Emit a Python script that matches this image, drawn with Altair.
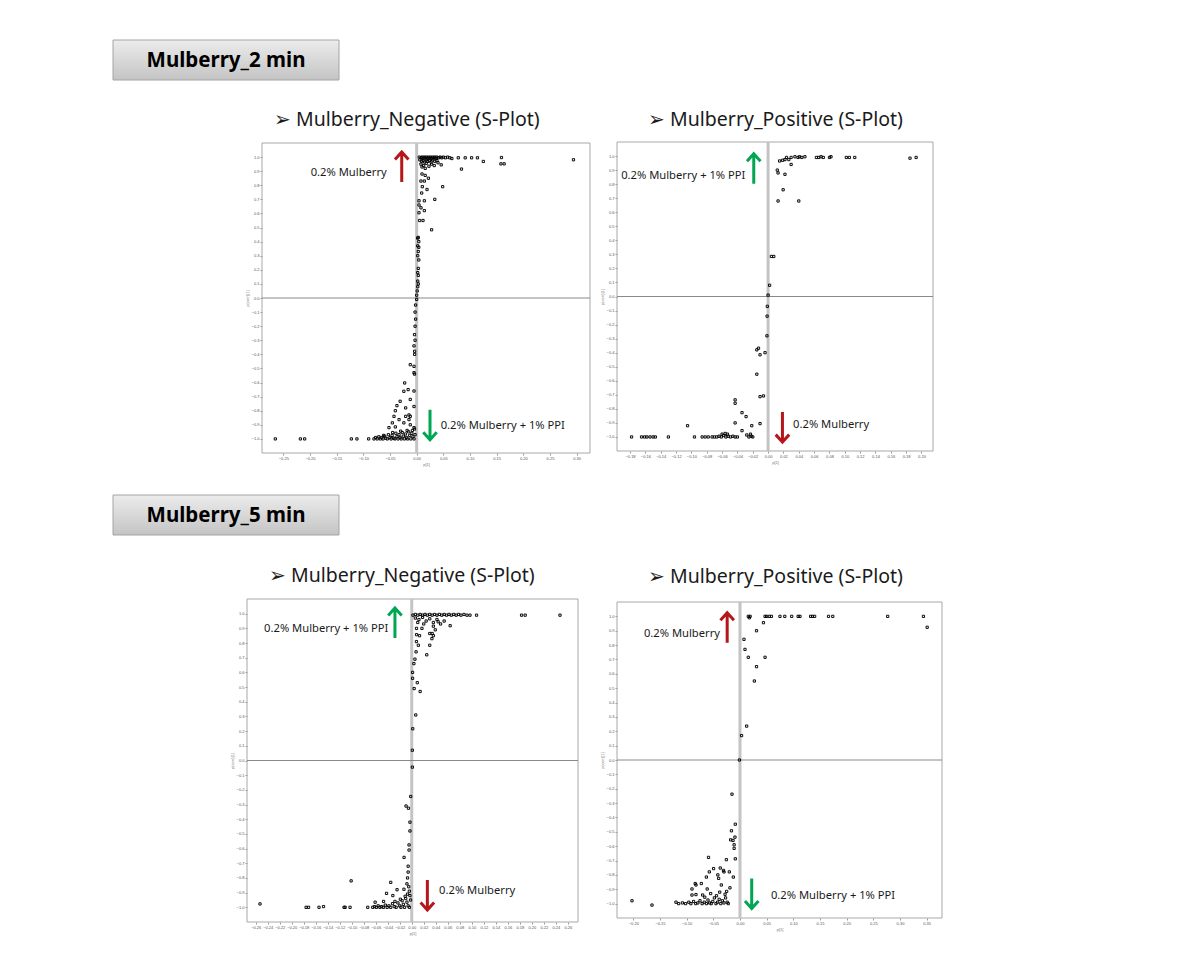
import altair as alt
import pandas as pd

# ------------------------------------------------------------------ data
# S-plot points (p[1], p(corr)[1])
neg2_pts = [
    (0.005, 1.0), (0.008, 0.995), (0.010, 1.0), (0.012, 0.99), (0.014, 1.0), (0.016, 0.995),
    (0.018, 1.0), (0.020, 0.99), (0.022, 1.0), (0.024, 0.995), (0.026, 1.0), (0.028, 0.99),
    (0.030, 1.0), (0.032, 0.995), (0.034, 1.0), (0.036, 0.99), (0.038, 1.0), (0.041, 0.995),
    (0.044, 1.0), (0.047, 0.995), (0.050, 1.0), (0.054, 0.995), (0.058, 1.0), (0.062, 0.995),
    (0.066, 0.99), (0.078, 0.995), (0.091, 0.995), (0.103, 0.995), (0.114, 0.995), (0.125, 0.969),
    (0.159, 0.997), (0.158, 0.952), (0.164, 0.952), (0.294, 0.981), (0.084, 0.915), (0.046, 0.945),
    (0.006, 0.98), (0.009, 0.97), (0.012, 0.975), (0.015, 0.965), (0.018, 0.98), (0.021, 0.97),
    (0.024, 0.975), (0.027, 0.965), (0.030, 0.98), (0.034, 0.97), (0.038, 0.975), (0.008, 0.95),
    (0.013, 0.94), (0.018, 0.955), (0.023, 0.935), (0.028, 0.95), (0.033, 0.94), (0.040, 0.96),
    (0.010, 0.93), (0.016, 0.92), (0.010, 0.88), (0.016, 0.87), (0.022, 0.85), (0.008, 0.83),
    (0.0144, 0.83), (0.0488, 0.79), (0.0106, 0.79), (0.0194, 0.77), (0.034, 0.70), (0.0094, 0.745),
    (0.0044, 0.69), (0.0044, 0.66), (0.0144, 0.69), (0.0081, 0.64), (0.0144, 0.62), (0.0044, 0.605),
    (0.0056, 0.55), (0.0119, 0.55), (0.028, 0.484), (0.0019, 0.425),
    (0.003, 0.43), (0.004, 0.40), (0.002, 0.37), (0.004, 0.36), (0.003, 0.33), (0.002, 0.30),
    (0.004, 0.27), (0.003, 0.21), (0.002, 0.18), (0.003, 0.16), (0.002, 0.12), (0.003, 0.10),
    (0.002, 0.08), (0.001, 0.05), (0.0, 0.02), (0.0, -0.01),
    (-0.002, -0.05), (-0.003, -0.10), (-0.002, -0.15), (-0.003, -0.20), (-0.004, -0.26),
    (-0.003, -0.30), (-0.005, -0.34),
    (-0.0038, -0.378), (-0.0038, -0.40), (-0.012, -0.473), (-0.005, -0.485), (-0.005, -0.53),
    (-0.004, -0.54), (-0.0225, -0.603), (-0.024, -0.662), (-0.016, -0.65), (-0.005, -0.66),
    (-0.031, -0.733), (-0.012, -0.72), (-0.037, -0.764), (-0.0206, -0.78), (-0.005, -0.77),
    (-0.040, -0.80), (-0.0144, -0.83), (-0.012, -0.84), (-0.0425, -0.84), (-0.0206, -0.84),
    (-0.033, -0.863), (-0.024, -0.886), (-0.0456, -0.886), (-0.0144, -0.863), (-0.012, -0.90),
    (-0.005, -0.92), (-0.04, -0.915), (-0.0519, -0.92),
    (-0.080, -1.0), (-0.077, -0.99), (-0.074, -1.0), (-0.071, -0.985), (-0.068, -1.0),
    (-0.066, -0.99), (-0.063, -1.0), (-0.060, -0.98), (-0.058, -0.995), (-0.055, -1.0),
    (-0.053, -0.97), (-0.050, -0.99), (-0.048, -1.0), (-0.046, -0.975), (-0.043, -0.995),
    (-0.041, -1.0), (-0.039, -0.96), (-0.037, -0.985), (-0.035, -1.0), (-0.033, -0.97),
    (-0.031, -0.99), (-0.029, -1.0), (-0.027, -0.955), (-0.025, -0.98), (-0.023, -1.0),
    (-0.021, -0.965), (-0.019, -0.99), (-0.017, -1.0), (-0.015, -0.95), (-0.013, -0.975),
    (-0.011, -1.0), (-0.009, -0.96), (-0.007, -0.985), (-0.005, -1.0), (-0.003, -0.97),
    (-0.062, -0.975), (-0.045, -0.955), (-0.030, -0.945), (-0.018, -0.94), (-0.008, -0.94),
    (-0.004, -0.93),
    (-0.265, -1.0), (-0.218, -1.0), (-0.21, -1.0), (-0.1225, -1.0), (-0.112, -1.0), (-0.09, -1.0),
]

pos2_pts = [
    (0.024, 0.99), (0.030, 0.99), (0.035, 0.995), (0.039, 0.99), (0.041, 0.995), (0.044, 0.99),
    (0.048, 0.995), (0.063, 0.99), (0.066, 0.99), (0.069, 0.995), (0.072, 0.99), (0.080, 0.99),
    (0.082, 0.995), (0.102, 0.99), (0.106, 0.99), (0.113, 0.99), (0.185, 0.985), (0.193, 0.99),
    (0.015, 0.965), (0.019, 0.97), (0.022, 0.975), (0.027, 0.975), (0.012, 0.90), (0.013, 0.88),
    (0.030, 0.94), (0.022, 0.87), (0.0196, 0.76), (0.013, 0.68), (0.040, 0.68),
    (0.0043, 0.285), (0.0074, 0.285), (0.002, 0.08), (0.0, 0.01),
    (-0.001, -0.07), (-0.0013, -0.14), (-0.0015, -0.28), (-0.004, -0.40), (-0.0147, -0.38),
    (-0.0125, -0.368), (-0.0105, -0.415), (-0.0147, -0.553), (-0.0105, -0.713), (-0.006, -0.708),
    (-0.043, -0.736), (-0.043, -0.76), (-0.034, -0.827), (-0.0287, -0.855), (-0.043, -0.90),
    (-0.0105, -0.905), (-0.0213, -0.92), (-0.105, -0.92), (-0.034, -0.955), (-0.0278, -0.986),
    (-0.025, -1.0), (-0.022, -0.995), (-0.020, -1.0), (-0.023, -0.98),
    (-0.178, -1.0), (-0.165, -1.0), (-0.161, -1.0), (-0.158, -1.0), (-0.154, -1.0),
    (-0.150, -1.0), (-0.147, -1.0), (-0.13, -1.0), (-0.096, -1.0), (-0.086, -1.0),
    (-0.082, -1.0), (-0.078, -1.0), (-0.073, -1.0), (-0.070, -1.0), (-0.067, -1.0),
    (-0.064, -0.995), (-0.061, -1.0), (-0.058, -0.99), (-0.055, -1.0), (-0.052, -0.995),
    (-0.049, -1.0), (-0.046, -0.995), (-0.043, -1.0), (-0.040, -1.0), (-0.060, -0.98),
    (-0.056, -0.975), (-0.053, -0.98),
]

neg5_pts = [
    (0.002, 0.99), (0.006, 0.995), (0.010, 0.99), (0.014, 0.995), (0.018, 0.99), (0.022, 0.995),
    (0.026, 0.99), (0.030, 0.995), (0.034, 0.99), (0.038, 0.995), (0.042, 0.99), (0.046, 0.995),
    (0.050, 0.99), (0.054, 0.995), (0.058, 0.99), (0.062, 0.995), (0.066, 0.99), (0.070, 0.995),
    (0.074, 0.99), (0.078, 0.995), (0.082, 0.99), (0.087, 0.995), (0.092, 0.99), (0.097, 0.99),
    (0.108, 0.99), (0.183, 0.99), (0.189, 0.99), (0.247, 0.99),
    (0.006, 0.97), (0.012, 0.96), (0.018, 0.975), (0.024, 0.95), (0.030, 0.965), (0.036, 0.94),
    (0.042, 0.96), (0.048, 0.93), (0.054, 0.95), (0.010, 0.94), (0.020, 0.93), (0.044, 0.945),
    (0.064, 0.918), (0.008, 0.90), (0.017, 0.90), (0.036, 0.915), (0.0392, 0.89),
    (0.008, 0.857), (0.013, 0.85), (0.030, 0.865), (0.034, 0.865), (0.036, 0.85), (0.0336, 0.83),
    (0.0078, 0.81), (0.011, 0.785), (0.030, 0.785), (0.0072, 0.74), (0.025, 0.72), (0.0053, 0.69),
    (0.0036, 0.66), (0.0014, 0.60), (0.0014, 0.56), (0.0092, 0.53), (0.004, 0.49), (0.014, 0.47),
    (0.0067, 0.31), (0.0017, 0.216), (0.001, 0.07), (0.001, -0.045),
    (-0.0017, -0.245), (-0.0095, -0.31), (-0.0055, -0.325), (-0.003, -0.42), (-0.003, -0.48),
    (-0.0045, -0.575), (-0.0045, -0.61), (-0.0128, -0.66), (-0.101, -0.82), (-0.006, -0.72),
    (-0.006, -0.76), (-0.007, -0.80), (-0.035, -0.83), (-0.013, -0.877), (-0.0245, -0.88),
    (-0.042, -0.905), (-0.0315, -0.92), (-0.047, -0.96), (-0.061, -0.965), (-0.2528, -0.977),
    (-0.176, -1.0), (-0.172, -1.0), (-0.1545, -1.0), (-0.147, -0.995), (-0.1128, -1.0),
    (-0.111, -1.0), (-0.1028, -1.0), (-0.0733, -1.0),
    (-0.065, -1.0), (-0.062, -0.995), (-0.059, -1.0), (-0.056, -0.99), (-0.053, -1.0),
    (-0.050, -0.995), (-0.047, -1.0), (-0.044, -0.985), (-0.041, -1.0), (-0.038, -0.99),
    (-0.035, -1.0), (-0.032, -0.975), (-0.029, -0.995), (-0.026, -1.0), (-0.023, -0.97),
    (-0.020, -0.99), (-0.018, -1.0), (-0.016, -0.955), (-0.014, -0.98), (-0.012, -1.0),
    (-0.010, -0.94), (-0.008, -0.965), (-0.006, -0.99), (-0.004, -1.0), (-0.002, -0.95),
    (-0.003, -0.92), (-0.007, -0.91), (-0.011, -0.925), (-0.019, -0.945), (-0.028, -0.96),
    (-0.005, -0.86), (-0.008, -0.84), (-0.004, -0.89),
]

pos5_pts = [
    (0.0156, 1.0), (0.019, 1.0), (0.047, 1.0), (0.050, 1.0), (0.055, 1.0), (0.059, 1.0),
    (0.075, 1.0), (0.084, 1.0), (0.097, 1.0), (0.109, 1.0), (0.1125, 1.0), (0.1325, 1.0),
    (0.136, 1.0), (0.14, 1.0), (0.166, 1.0), (0.174, 1.0), (0.277, 1.0), (0.344, 1.0),
    (0.0175, 0.99), (0.044, 0.956), (0.351, 0.924), (0.031, 0.90), (0.0075, 0.84),
    (0.0094, 0.77), (0.0156, 0.715), (0.047, 0.715), (0.031, 0.65), (0.027, 0.55),
    (0.0125, 0.236), (0.003, 0.17), (-0.001, 0.0),
    (-0.015, -0.238), (-0.0088, -0.447), (-0.016, -0.493), (-0.0094, -0.537), (-0.0175, -0.556),
    (-0.013, -0.56), (-0.011, -0.59), (-0.011, -0.615), (-0.059, -0.678), (-0.0088, -0.688),
    (-0.0256, -0.694), (-0.037, -0.752), (-0.031, -0.769), (-0.0575, -0.779), (-0.0495, -0.756),
    (-0.03, -0.779), (-0.020, -0.779), (-0.0415, -0.80), (-0.040, -0.824), (-0.063, -0.815),
    (-0.0125, -0.815), (-0.084, -0.86), (-0.0725, -0.86), (-0.035, -0.87), (-0.09, -0.898),
    (-0.0825, -0.87), (-0.0615, -0.898), (-0.0188, -0.89), (-0.09, -0.94), (-0.0825, -0.937),
    (-0.2025, -0.98), (-0.165, -1.01),
    (-0.12, -0.99), (-0.115, -1.0), (-0.108, -0.995), (-0.102, -1.0), (-0.096, -0.99),
    (-0.092, -1.0), (-0.087, -0.985), (-0.083, -1.0), (-0.079, -0.995), (-0.075, -0.98),
    (-0.071, -1.0), (-0.067, -0.99), (-0.063, -1.0), (-0.060, -0.975), (-0.057, -0.995),
    (-0.054, -1.0), (-0.051, -0.985), (-0.048, -0.96), (-0.045, -1.0), (-0.042, -0.99),
    (-0.039, -0.97), (-0.036, -1.0), (-0.033, -0.98), (-0.030, -0.995), (-0.027, -0.96),
    (-0.024, -0.99), (-0.022, -1.0), (-0.070, -0.94), (-0.055, -0.93), (-0.044, -0.945),
    (-0.038, -0.92), (-0.028, -0.935), (-0.025, -0.915), (-0.066, -0.955),
]

# tick values
y_ticks = [-1.0, -0.9, -0.8, -0.7, -0.6, -0.5, -0.4, -0.3, -0.2, -0.1, 0.0,
           0.1, 0.2, 0.3, 0.4, 0.5, 0.6, 0.7, 0.8, 0.9, 1.0]
neg2_xticks = [-0.25, -0.20, -0.15, -0.10, -0.05, 0.0, 0.05, 0.10, 0.15, 0.20, 0.25, 0.30]
pos2_xticks = [-0.20, -0.18, -0.16, -0.14, -0.12, -0.10, -0.08, -0.06, -0.04, -0.02, 0.0,
               0.02, 0.04, 0.06, 0.08, 0.10, 0.12, 0.14, 0.16, 0.18, 0.20]
neg5_xticks = [-0.26, -0.24, -0.22, -0.20, -0.18, -0.16, -0.14, -0.12, -0.10, -0.08, -0.06,
               -0.04, -0.02, 0.0, 0.02, 0.04, 0.06, 0.08, 0.10, 0.12, 0.14, 0.16, 0.18,
               0.20, 0.22, 0.24, 0.26]
pos5_xticks = [-0.20, -0.15, -0.10, -0.05, 0.0, 0.05, 0.10, 0.15, 0.20, 0.25, 0.30, 0.35]

# texts
header_texts = ["Mulberry_2 min", "Mulberry_5 min"]
neg_title = "\u27a2 Mulberry_Negative (S-Plot)"
pos_title = "\u27a2 Mulberry_Positive (S-Plot)"
lab_a = "0.2% Mulberry"
lab_b = "0.2% Mulberry + 1% PPI"

RED = "#b4161b"
GREEN = "#00a651"

# annotations per panel: arrows (x, y, colour, direction) and notes (x, y, text, align)
neg2_arrows = [(-0.028, 0.93, RED, "up"), (0.025, -0.90, GREEN, "down")]
neg2_notes = [(-0.056, 0.89, lab_a, "right"), (0.045, -0.91, lab_b, "left")]
pos2_arrows = [(-0.0187, 0.91, GREEN, "up"), (0.0187, -0.93, RED, "down")]
pos2_notes = [(-0.0296, 0.86, lab_b, "right"), (0.0326, -0.914, lab_a, "left")]
neg5_arrows = [(-0.028, 0.936, GREEN, "up"), (0.026, -0.916, RED, "down")]
neg5_notes = [(-0.039, 0.895, lab_b, "right"), (0.0456, -0.89, lab_a, "left")]
pos5_arrows = [(-0.024, 0.92, RED, "up"), (0.022, -0.93, GREEN, "down")]
pos5_notes = [(-0.0375, 0.88, lab_a, "right"), (0.058, -0.95, lab_b, "left")]

# ------------------------------------------------------------------ layout (pixels)
W, H = 1190, 957
FONT = "Noto Sans"
UP_PATH = "M0,1 L0,-1 M-0.45,-0.5 L0,-1 L0.45,-0.5"
DOWN_PATH = "M0,-1 L0,1 M-0.45,0.5 L0,1 L0.45,0.5"


def panel(pts, xticks, xdom, xr, yr, arrows, notes):
    ydom = [-1.1, 1.1]
    xs = alt.Scale(domain=xdom, range=xr, nice=False, zero=False)
    ys = alt.Scale(domain=ydom, range=yr, nice=False, zero=False)
    xaxis = alt.Axis(orient="bottom", offset=yr[0] - H, values=xticks, format=".2f",
                     labelFontSize=4, labelColor="#555", labelOverlap=False, labelPadding=1,
                     tickSize=2, tickColor="#999", domain=False, grid=False,
                     title="p[1]", titleFontSize=4, titleFontWeight="normal",
                     titleColor="#777", titlePadding=2)
    yaxis = alt.Axis(orient="left", offset=-xr[0], values=y_ticks, format=".1f",
                     labelFontSize=4, labelColor="#555", labelOverlap=False, labelPadding=1,
                     tickSize=2, tickColor="#999", domain=False, grid=False,
                     title="p(corr)[1]", titleFontSize=4, titleFontWeight="normal",
                     titleColor="#777", titlePadding=2)
    X = alt.X("x:Q", scale=xs, axis=xaxis)
    Y = alt.Y("y:Q", scale=ys, axis=yaxis)

    frame_df = pd.DataFrame({"x": [xdom[0]], "x2": [xdom[1]], "y": [ydom[0]], "y2": [ydom[1]]})
    frame = alt.Chart(frame_df).mark_rect(fillOpacity=0, stroke="#a8a8a8", strokeWidth=1).encode(
        x=X, x2="x2:Q", y=Y, y2="y2:Q")

    vline_df = pd.DataFrame({"x": [0.0], "y": [ydom[0]], "y2": [ydom[1]]})
    vline = alt.Chart(vline_df).mark_rule(color="#c4c4c4", strokeWidth=3).encode(
        x=X, y=Y, y2="y2:Q")
    hline_df = pd.DataFrame({"x": [xdom[0]], "x2": [xdom[1]], "y": [0.0]})
    hline = alt.Chart(hline_df).mark_rule(color="#8a8a8a", strokeWidth=1).encode(
        x=X, x2="x2:Q", y=Y)

    pdf = pd.DataFrame(pts, columns=["x", "y"])
    points = alt.Chart(pdf).mark_point(shape="square", size=5, strokeWidth=1,
                                       color="#000", filled=False, opacity=0.95).encode(x=X, y=Y)

    layers = [frame, vline, hline, points]
    for ax, ay, col, d in arrows:
        adf = pd.DataFrame({"x": [ax], "y": [ay]})
        layers.append(alt.Chart(adf).mark_point(
            shape=UP_PATH if d == "up" else DOWN_PATH, size=900, strokeWidth=3,
            filled=False, color=col, opacity=1, strokeJoin="miter").encode(x=X, y=Y))
    for nx, ny, txt, al in notes:
        ndf = pd.DataFrame({"x": [nx], "y": [ny], "t": [txt]})
        layers.append(alt.Chart(ndf).mark_text(
            align=al, baseline="middle", font=FONT, fontSize=11.2, color="#1a1a1a").encode(
            x=X, y=Y, text="t:N"))
    return alt.layer(*layers)


p1 = panel(neg2_pts, neg2_xticks, [-0.29, 0.325], [262, 590], [453, 143], neg2_arrows, neg2_notes)
p2 = panel(pos2_pts, pos2_xticks, [-0.197, 0.215], [617, 933], [451, 142], pos2_arrows, pos2_notes)
p3 = panel(neg5_pts, neg5_xticks, [-0.2745, 0.277], [247, 578], [922, 599], neg5_arrows, neg5_notes)
p4 = panel(pos5_pts, pos5_xticks, [-0.2306, 0.3788], [617, 942], [918, 602], pos5_arrows, pos5_notes)

# decorations: header boxes and sub-titles
one = pd.DataFrame({"k": [0]})
grad = alt.Gradient(gradient="linear",
                    stops=[alt.GradientStop(color="#ececec", offset=0),
                           alt.GradientStop(color="#c4c4c4", offset=1)],
                    x1=0, x2=0, y1=0, y2=1)
decor = []
for txt, top in zip(header_texts, [40, 495]):
    decor.append(alt.Chart(one).mark_rect(fill=grad, stroke="#a4a4a4", strokeWidth=1).encode(
        x=alt.value(113), x2=alt.value(339), y=alt.value(top), y2=alt.value(top + 40)))
    decor.append(alt.Chart(one).mark_text(font=FONT, fontSize=20.5, fontWeight="bold",
                                          color="#000", align="center", baseline="middle").encode(
        x=alt.value(226), y=alt.value(top + 21), text=alt.value(txt)))
for txt, sx, sy in [(neg_title, 274, 120), (pos_title, 648, 120),
                    (neg_title, 269, 576), (pos_title, 648, 577)]:
    decor.append(alt.Chart(one).mark_text(font=FONT, fontSize=19.5, color="#1a1a1a",
                                          align="left", baseline="middle").encode(
        x=alt.value(sx), y=alt.value(sy), text=alt.value(txt)))

chart = alt.layer(*decor, p1, p2, p3, p4).resolve_scale(
    x="independent", y="independent").properties(
    width=W, height=H, padding=0, autosize="none", background="white").configure_view(
    stroke=None)

chart.save("out.html", embed_options={"renderer": "svg", "actions": False})
